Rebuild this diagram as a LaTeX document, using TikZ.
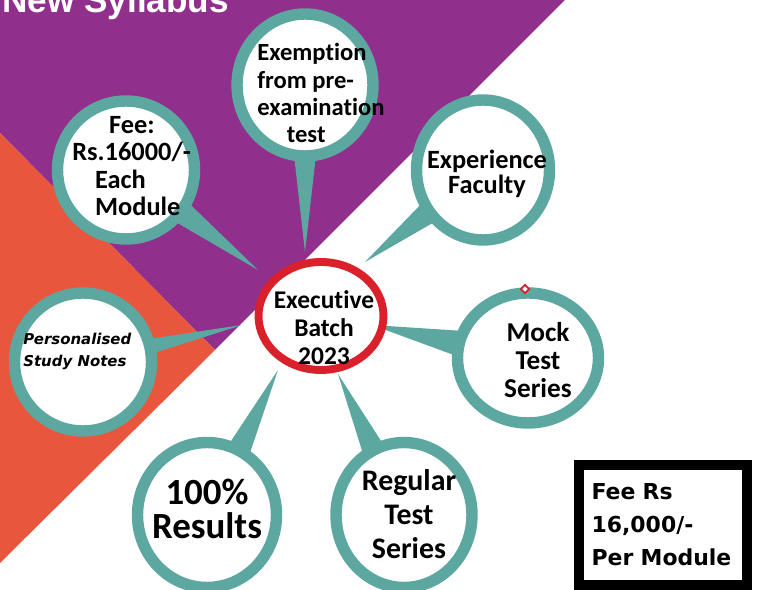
\documentclass[tikz,border=0pt]{standalone}
\usepackage{fontspec}
\setmainfont{Carlito}[Ligatures=NoCommon]
\newfontfamily\boxfont{DejaVu Sans}
\newfontfamily\titlefont{Liberation Sans}
\usepackage{tikz}
\usetikzlibrary{shapes.geometric,positioning,calc}
\pgfdeclarelayer{under}
\pgfsetlayers{under,main}
\definecolor{bandpurple}{RGB}{144,47,140}
\definecolor{bandred}{RGB}{232,86,62}
\definecolor{ringteal}{RGB}{92,168,160}
\definecolor{ringred}{RGB}{218,32,42}

\begin{document}
\begin{tikzpicture}[x=0.02cm, y=-0.02cm,
        bubble/.style={ellipse, draw=ringteal, line width=6.5pt, fill=white,
          inner sep=0pt, minimum width=2.72cm, minimum height=2.84cm},
        hub/.style={ellipse, draw=ringred, line width=4.5pt, fill=white,
          inner sep=0pt, minimum width=2.5cm, minimum height=2.16cm},
        txt/.style={font=\bfseries, align=center, inner sep=0pt},
        feebox/.style={draw=black, line width=5.7pt, inner sep=0pt,
          minimum width=3.36cm, minimum height=2.42cm, text width=2.86cm, align=left,
          font=\boxfont\bfseries\fontsize{12.5}{18.8}\selectfont}]
        \useasboundingbox (0,0) rectangle (757,590);
        \clip (0,0) rectangle (757,590);
        \begin{pgfonlayer}{under}
          \fill[white] (0,0) rectangle (757,590);
          \fill[bandpurple] (0,0) -- (565,0) -- (215,350) -- (0,133) -- cycle;
          \fill[bandred] (0,133) -- (215,350) -- (0,563) -- cycle;
        \end{pgfonlayer}
        \node[anchor=base west, text=white, inner sep=0pt,
          font=\titlefont\bfseries\fontsize{20}{20}\selectfont] (title) at (2,13) {New Syllabus};

        \node[bubble] (exem) at (305,85) {};
        \node[bubble, minimum width=2.74cm, minimum height=2.76cm] (fee) at (126,170) {};
        \node[bubble, minimum width=2.66cm, minimum height=2.8cm] (expe) at (483,170) {};
        \node[bubble, minimum width=2.74cm, minimum height=2.76cm] (pers) at (83,362) {};
        \node[bubble, minimum width=2.82cm, minimum height=2.6cm] (mock) at (528,358) {};
        \node[bubble, minimum width=2.78cm, minimum height=2.9cm] (res) at (207,515) {};
        \node[bubble, minimum width=2.72cm, minimum height=2.9cm] (reg) at (404,515) {};
        \node[hub] (exec) at (321,316) {};
        \node[diamond, draw=ringred, fill=white, line width=1pt, inner sep=0pt,
          minimum size=0.18cm] (dot) at (525,289) {};

        \coordinate (t1) at (305,252);
        \coordinate (t2) at (258,270);
        \coordinate (t3) at (365,262);
        \coordinate (t4) at (242,325);
        \coordinate (t5) at (372,325);
        \coordinate (t6) at (278,370);
        \coordinate (t7) at (338,374);
        \begin{pgfonlayer}{under}
          \foreach \b\t\w in {exem/t1/0.38, fee/t2/0.4, expe/t3/0.42, pers/t4/0.26,
              mock/t5/0.46, res/t6/0.42, reg/t7/0.42} {
            \fill[ringteal] ($(\b.center)!\w cm!90:(\t)$) -- (\t)
              -- ($(\b.center)!\w cm!-90:(\t)$) -- cycle;
          };
        \end{pgfonlayer}

        \node[txt, align=left, anchor=west, font=\bfseries\fontsize{14}{15.4}\selectfont]
          (exemtxt) at (257,93) {Exemption\\from pre-\\examination\\\hspace*{1.2em}test};
        \node[txt, align=left, anchor=west, font=\bfseries\fontsize{15}{15.6}\selectfont]
          (feetxt) at (72,166) {\hspace*{21pt}Fee:\\Rs.16000/-\\\hspace*{13pt}Each\\\hspace*{13pt}Module};
        \node[txt, font=\bfseries\fontsize{15}{14.5}\selectfont]
          (expetxt) at (487,174) {Experience\\Faculty};
        \node[txt, align=left, anchor=west, font=\boxfont\bfseries\itshape\fontsize{8.5}{12.5}\selectfont]
          (perstxt) at (23,351) {Personalised\\Study Notes};
        \node[txt, font=\bfseries\fontsize{15.5}{16}\selectfont]
          (mocktxt) at (538,360) {Mock\\Test\\Series};
        \node[txt, font=\bfseries\fontsize{21}{19}\selectfont]
          (restxt) at (207,509) {100\%\\Results};
        \node[txt, font=\bfseries\fontsize{17}{19.3}\selectfont]
          (regtxt) at (409,514) {Regular\\Test\\Series};
        \node[txt, font=\bfseries\fontsize{14.5}{16}\selectfont]
          (exectxt) at (324,328) {Executive\\Batch\\2023};

        \node[feebox] (box) at (663,525) {Fee Rs\\16,000/-\\Per Module};
      \end{tikzpicture}
\end{document}
